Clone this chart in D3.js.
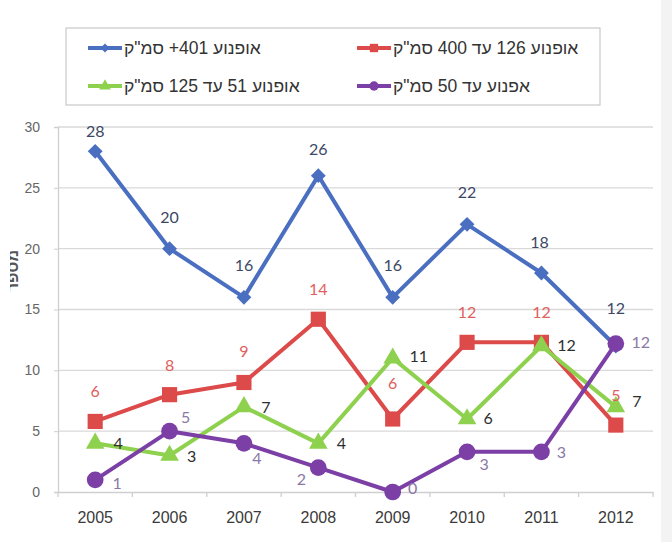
<!DOCTYPE html>
<html><head><meta charset="utf-8">
<script src="https://cdn.jsdelivr.net/npm/d3@7/dist/d3.min.js"></script>
<style>body{margin:0;background:#fff;}svg{display:block;}</style>
</head><body>
<svg id="c" width="672" height="542"></svg>
<script>
const years = ["2005","2006","2007","2008","2009","2010","2011","2012"];
const yTicks = [0,5,10,15,20,25,30];
const seriesNames = ["אופנוע 401+ סמ\"ק","אופנוע 126 עד 400 סמ\"ק","אופנוע 51 עד 125 סמ\"ק","אפנוע עד 50 סמ\"ק"];
const blueVals   = [28,20,16,26,16,22,18,12];
const redVals    = [5.8,8,9,14.2,6,12.3,12.3,5.5];
const greenVals  = [4,3,7,4,11,6,12,7];
const purpleVals = [1,5,4,2,0,3.3,3.3,12.2];
const blueLabels   = ["28","20","16","26","16","22","18","12"];
const redLabels    = ["6","8","9","14","6","12","12","5"];
const greenLabels  = ["4","3","7","4","11","6","12","7"];
const purpleLabels = ["1","5","4","2","0","3","3","12"];

const svg = d3.select("#c");
const W = 672, H = 542;
const pLeft = 58, pRight = 653, pTop = 127, pBottom = 492;

svg.append("rect").attr("x",661).attr("y",0).attr("width",11).attr("height",H).attr("fill","#f3f3f3");

const x = d3.scaleBand().domain(years).range([pLeft,pRight]).padding(0);
const y = d3.scaleLinear().domain([0,30]).range([pBottom,pTop]);
const cx = d => x(d) + x.bandwidth()/2;

// gridlines
svg.append("g").selectAll("line").data(yTicks.filter(t=>t>0)).join("line")
  .attr("x1",pLeft).attr("x2",pRight).attr("y1",d=>y(d)).attr("y2",d=>y(d))
  .attr("stroke","#d9d9d9").attr("stroke-width",1.3);

// y axis
const ya = svg.append("g").attr("transform",`translate(${pLeft},0)`)
  .call(d3.axisLeft(y).tickValues(yTicks).tickSize(4).tickPadding(14));
ya.select(".domain").attr("stroke","#cfcfcf").attr("stroke-width",1.3);
ya.selectAll(".tick line").attr("stroke","#cfcfcf");
ya.selectAll("text").attr("font-family","Liberation Sans, Arial, sans-serif").attr("font-size",14).attr("fill","#666");

// x axis
const xa = svg.append("g").attr("transform",`translate(0,${pBottom})`)
  .call(d3.axisBottom(x).tickSize(0).tickPadding(20));
xa.select(".domain").attr("stroke","#cfcfcf").attr("stroke-width",1.3);
xa.selectAll("text").attr("font-family","Liberation Sans, Arial, sans-serif").attr("font-size",16).attr("fill","#3a3a3a");
svg.append("g").selectAll("line").data(d3.range(years.length+1)).join("line")
  .attr("x1",i=>pLeft+i*x.bandwidth()).attr("x2",i=>pLeft+i*x.bandwidth())
  .attr("y1",pBottom).attr("y2",pBottom+5).attr("stroke","#cfcfcf").attr("stroke-width",1.3);

// y axis title (cropped at the left edge)
svg.append("text").attr("transform","translate(18,271) rotate(-90)")
  .attr("text-anchor","middle").attr("font-family","Liberation Sans, Arial, sans-serif")
  .attr("font-size",16).attr("font-weight","bold").attr("fill","#555").text("מספר");
svg.append("rect").attr("x",0).attr("y",200).attr("width",10).attr("height",130).attr("fill","#fff");

const colors = {blue:"#4a6fc1", red:"#dc4a4a", green:"#8ed14e", purple:"#7b3fa6"};
const line = d3.line().x((d,i)=>cx(years[i])).y(d=>y(d));

function drawSeries(vals, color, shape, size, rot){
  svg.append("path").datum(vals).attr("d",line).attr("fill","none")
    .attr("stroke",color).attr("stroke-width",4).attr("stroke-linejoin","round");
  svg.append("g").selectAll("path").data(vals).join("path")
    .attr("transform",(d,i)=>`translate(${cx(years[i])},${y(d)}) rotate(${rot})`)
    .attr("d",d3.symbol().type(shape).size(size)).attr("fill",color);
}
drawSeries(blueVals, colors.blue, d3.symbolSquare, 110, 45);
drawSeries(redVals, colors.red, d3.symbolSquare, 230, 0);
drawSeries(greenVals, colors.green, d3.symbolTriangle, 150, 0);
drawSeries(purpleVals, colors.purple, d3.symbolCircle, 220, 0);

const lf = "Lato, 'Open Sans', sans-serif";
function labels(vals, texts, offs, color){
  svg.append("g").selectAll("text").data(vals).join("text")
    .attr("x",(d,i)=>cx(years[i])+offs[i][0]).attr("y",(d,i)=>y(d)+offs[i][1])
    .attr("text-anchor","middle").attr("font-family",lf).attr("font-size",16)
    .attr("fill",color).text((d,i)=>texts[i]);
}
labels(blueVals, blueLabels, [[0,-14],[0,-26],[0,-26],[0,-21],[0,-26],[0,-26],[-2,-25],[0,-32]], "#3c4866");
labels(redVals, redLabels, [[0,-24],[0,-24],[0,-26],[0,-24],[0,-30],[0,-24],[0,-24],[0,-24]], "#e0605c");
labels(greenVals, greenLabels, [[23,6],[22,6],[22,6],[23,6],[26,4],[21,5],[25,5],[21,0]], "#2e2e2e");
labels(purpleVals, purpleLabels, [[22,9],[16,-8],[13,21],[-17,17],[20,2],[17,18],[20,6],[25,4]], "#8a78a6");

// legend
const lg = svg.append("g");
lg.append("rect").attr("x",66).attr("y",28).attr("width",534).attr("height",77)
  .attr("fill","#fff").attr("stroke","#c8c8c8").attr("stroke-width",1.2);
const legItems = [
  {name:seriesNames[0], color:colors.blue, shape:d3.symbolSquare, rot:45, sz:40, x:88, y:48},
  {name:seriesNames[1], color:colors.red, shape:d3.symbolSquare, rot:0, sz:70, x:357, y:48},
  {name:seriesNames[2], color:colors.green, shape:d3.symbolTriangle, rot:0, sz:60, x:88, y:86},
  {name:seriesNames[3], color:colors.purple, shape:d3.symbolCircle, rot:0, sz:70, x:357, y:86}
];
legItems.forEach(it=>{
  lg.append("line").attr("x1",it.x).attr("x2",it.x+34).attr("y1",it.y).attr("y2",it.y)
    .attr("stroke",it.color).attr("stroke-width",4);
  lg.append("path").attr("transform",`translate(${it.x+17},${it.y}) rotate(${it.rot})`)
    .attr("d",d3.symbol().type(it.shape).size(it.sz)).attr("fill",it.color);
  lg.append("text").attr("x",it.x+36).attr("y",it.y+6).attr("direction","rtl")
    .attr("text-anchor","end").attr("font-family","Liberation Sans, Arial, sans-serif")
    .attr("font-size",17.5).attr("fill","#333").text(it.name);
});
</script>
</body></html>
